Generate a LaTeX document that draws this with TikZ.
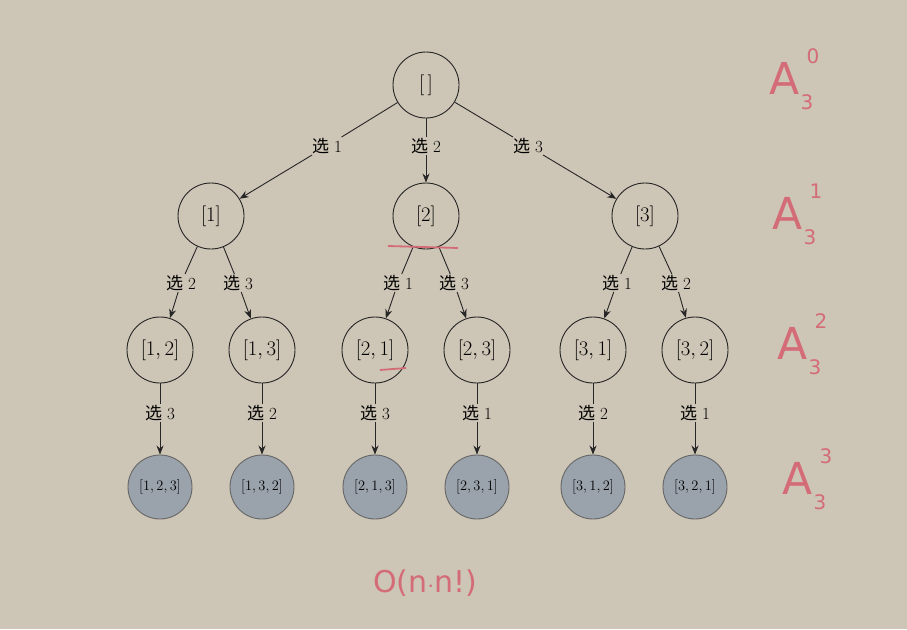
\documentclass[tikz,border=0pt]{standalone}
\usepackage{fontspec}
\newfontfamily\cjk{Noto Sans CJK SC}
\newfontfamily\hand{DejaVu Sans}[Scale=1]
\begin{document}
\begin{tikzpicture}[x=1pt,y=-1pt,
  nd/.style={circle,draw=black!85,line width=0.9pt,minimum size=66pt,inner sep=0pt,font=\fontsize{21}{24}\selectfont},
  lf/.style={nd,fill=leafc,draw=black!60,minimum size=64pt,font=\fontsize{15}{16}\selectfont},
  lb/.style={inner sep=1pt,font=\fontsize{17}{20}\selectfont},
  ed/.style={line width=0.9pt,draw=black!85},
  ar/.style={ed,-{Stealth[length=9pt,width=7pt]}},
  annA/.style={text=annc,inner sep=0pt,font=\hand\fontsize{44}{48}\selectfont},
  annS/.style={text=annc,inner sep=0pt,font=\hand\fontsize{20}{22}\selectfont}]
\definecolor{bgc}{HTML}{CDC5B5}
\definecolor{leafc}{HTML}{9AA3AC}
\definecolor{annc}{HTML}{D46C78}
\usetikzlibrary{arrows.meta}
\fill[bgc] (0,0) rectangle (907,629);
\useasboundingbox (0,0) rectangle (907,629);
\node[nd] (r) at (426,85) {$[\,]$};
\node[nd] (a1) at (211,216) {$[1]$};
\node[nd] (a2) at (426,216) {$[2]$};
\node[nd] (a3) at (645,216) {$[3]$};
\foreach \n/\x/\t in {b1/160/{[1,2]},b2/262/{[1,3]},b3/375/{[2,1]},b4/477/{[2,3]},b5/593/{[3,1]},b6/695/{[3,2]}}
  \node[nd] (\n) at (\x,350) {$\t$};
\foreach \n/\x/\t in {c1/160/{[1,2,3]},c2/262/{[1,3,2]},c3/375/{[2,1,3]},c4/477/{[2,3,1]},c5/593/{[3,1,2]},c6/695/{[3,2,1]}}
  \node[lf] (\n) at (\x,487) {$\t$};
\node[lb] (l1) at (327,146) {{\cjk 选} 1};
\node[lb] (l2) at (426,146) {{\cjk 选} 2};
\node[lb] (l3) at (528,146) {{\cjk 选} 3};
\draw[ed] (r) -- (l1); \draw[ar] (l1) -- (a1);
\draw[ed] (r) -- (l2); \draw[ar] (l2) -- (a2);
\draw[ed] (r) -- (l3); \draw[ar] (l3) -- (a3);
\foreach \p/\c/\x/\d in {a1/b1/181/2,a1/b2/238/3,a2/b3/398/1,a2/b4/454/3,a3/b5/617/1,a3/b6/676/2}{
  \node[lb] (m\c) at (\x,283) {{\cjk 选} \d};
  \draw[ed] (\p) -- (m\c); \draw[ar] (m\c) -- (\c);}
\foreach \p/\c/\x/\d in {b1/c1/160/3,b2/c2/262/2,b3/c3/375/3,b4/c4/477/1,b5/c5/593/2,b6/c6/695/1}{
  \node[lb] (m\c) at (\x,413) {{\cjk 选} \d};
  \draw[ed] (\p) -- (m\c); \draw[ar] (m\c) -- (\c);}
\draw[annc,line width=1.8pt] (388,246) -- (458,248);
\draw[annc,line width=1.8pt] (380,370) -- (406,368);
\foreach \i/\y/\x in {0/78/785,1/213/788,2/343/793,3/478/798}{
  \node[annA] (A\i) at (\x,\y) {A};
  \node[annS] (sup\i) at (\x+28,\y-22) {\i};
  \node[annS] (sub\i) at (\x+22,\y+24) {3};}
\node[annA,font=\hand\fontsize{30}{34}\selectfont] (no) at (425,583) {O(n$\cdot$n!)};
\end{tikzpicture}
\end{document}
